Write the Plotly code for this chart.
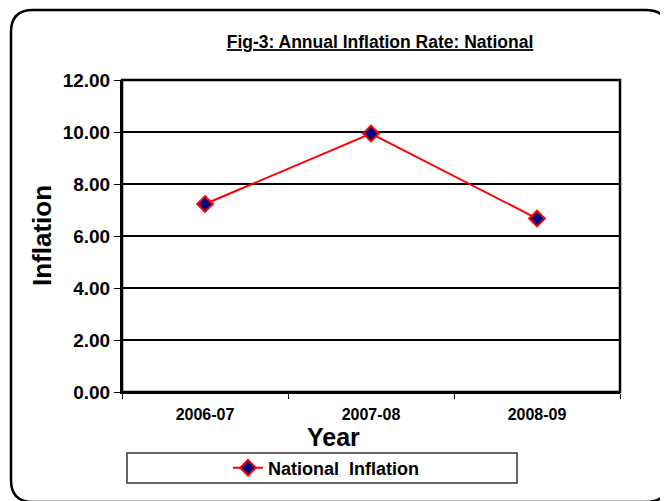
import plotly.graph_objects as go

years = ["2006-07", "2007-08", "2008-09"]
inflation = [7.23, 9.94, 6.67]
series_name = "National&nbsp;&nbsp;Inflation"
y_ticks = [0, 2, 4, 6, 8, 10, 12]

# reference page coordinates (the page body has an 8px margin)
OFF = 8
W, H = 668, 501
L, R, T, B = 122, 620, 80, 392

def px(x):
    return (x - L) / (R - L)

def py(y):
    return (B - y) / (B - T)

FONT = "Liberation Sans, Arial, sans-serif"

fig = go.Figure()
fig.add_trace(go.Scatter(
    x=years, y=inflation, name=series_name, mode="lines+markers",
    line=dict(color="#FF0000", width=2),
    marker=dict(symbol="diamond", size=12, color="#000080",
                line=dict(color="#FF0000", width=2)),
))

# outer rounded border
x0, y0, x1, y1, r = 11, 10, 668, 502, 22
path = (f"M {px(x0+r)},{py(y0)} L {px(x1-r)},{py(y0)} "
        f"Q {px(x1)},{py(y0)} {px(x1)},{py(y0+r)} L {px(x1)},{py(y1-r)} "
        f"Q {px(x1)},{py(y1)} {px(x1-r)},{py(y1)} L {px(x0+r)},{py(y1)} "
        f"Q {px(x0)},{py(y1)} {px(x0)},{py(y1-r)} L {px(x0)},{py(y0+r)} "
        f"Q {px(x0)},{py(y0)} {px(x0+r)},{py(y0)} Z")
shapes = [
    dict(type="path", xref="paper", yref="paper", path=path,
         line=dict(color="black", width=2.5), layer="below"),
    dict(type="rect", xref="paper", yref="paper",
         x0=px(127), x1=px(517), y0=py(483), y1=py(453),
         line=dict(color="#333333", width=1.5), fillcolor="white", layer="below"),
    dict(type="rect", xref="paper", yref="paper", x0=0, x1=1, y0=0, y1=1,
         line=dict(color="black", width=2.5)),
]

annotations = [
    dict(text="<b>Year</b>", xref="paper", yref="paper", x=px(333), y=py(437),
         xanchor="center", yanchor="middle", showarrow=False,
         font=dict(size=25, family=FONT, color="black")),
    dict(text="<b>Inflation</b>", xref="paper", yref="paper", x=px(42), y=py(236),
         xanchor="center", yanchor="middle", showarrow=False, textangle=-90,
         font=dict(size=26, family=FONT, color="black")),
]

fig.update_layout(
    width=W - OFF, height=H - OFF,
    margin=dict(l=L - OFF, r=W - R, t=T - OFF, b=H - B),
    paper_bgcolor="white", plot_bgcolor="white",
    font=dict(family=FONT, color="black"),
    shapes=shapes,
    annotations=annotations,
    title=dict(text="<u><b>Fig-3: Annual Inflation Rate: National</b></u>",
               x=px(380), xref="paper", xanchor="center",
               y=1 - (42 - OFF) / (H - OFF), yanchor="middle",
               font=dict(size=17.5, family=FONT, color="black")),
    showlegend=True,
    legend=dict(orientation="h", x=px(228), xanchor="left",
                y=py(468), yanchor="middle", bgcolor="rgba(0,0,0,0)",
                borderwidth=0,
                font=dict(size=18, family=FONT, color="black", weight="bold")),
    xaxis=dict(
        type="category", range=[-0.5, 2.5], showgrid=False,
        showline=True, linecolor="black", linewidth=2, mirror=False,
        ticks="outside", tickson="boundaries", ticklen=5, tickcolor="black",
        tickfont=dict(size=16, family=FONT, weight="bold"),
        ticklabelstandoff=7,
    ),
    yaxis=dict(
        range=[0, 12], tickvals=y_ticks, tickformat=".2f",
        showgrid=True, gridcolor="black", gridwidth=2,
        showline=True, linecolor="black", linewidth=2,
        ticks="outside", ticklen=6, tickcolor="black",
        tickfont=dict(size=19, family=FONT, weight="bold"),
        zeroline=False,
    ),
)

fig.write_html("out.html")
